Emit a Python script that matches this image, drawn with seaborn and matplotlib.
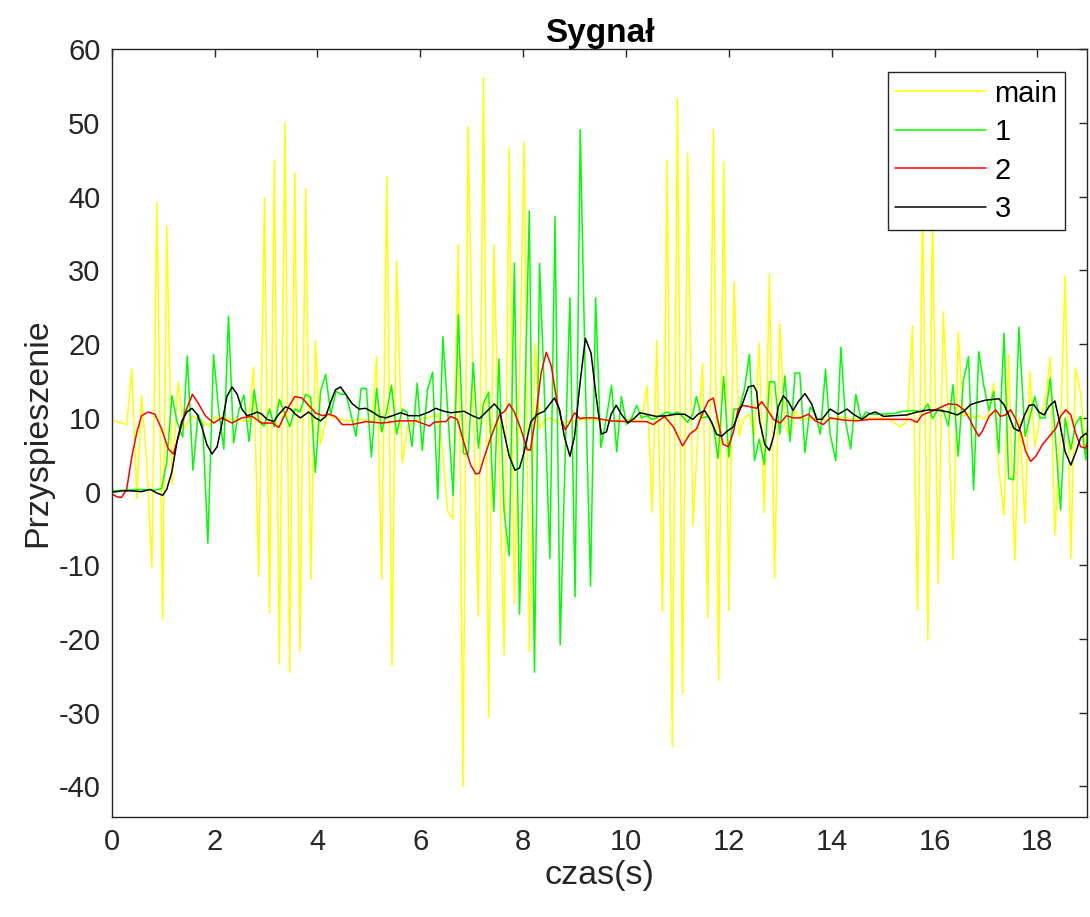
import numpy as np
import pandas as pd
import seaborn as sns
import matplotlib as mpl
import matplotlib.pyplot as plt

sns.set_style("white")
mpl.rcParams["font.family"] = ["Liberation Sans", "DejaVu Sans"]
mpl.rcParams["axes.unicode_minus"] = False
mpl.rcParams["axes.edgecolor"] = "#262626"
mpl.rcParams["xtick.color"] = "#262626"
mpl.rcParams["ytick.color"] = "#262626"

# values (time in s, acceleration)
t_main = [0.0, 0.29, 0.39, 0.49, 0.58, 0.68, 0.78, 0.88, 0.99, 1.07, 1.17, 1.29, 1.40, 1.56, 1.75, 1.88,
          2.01, 2.21, 2.47, 2.66, 2.76, 2.86, 2.97, 3.07, 3.16, 3.26, 3.37, 3.46, 3.56, 3.66, 3.77, 3.87,
          3.96, 4.06, 4.19, 4.35, 4.55, 4.87, 5.06, 5.15, 5.25, 5.35, 5.45, 5.54, 5.65, 5.75, 5.98, 6.24,
          6.34, 6.44, 6.53, 6.63, 6.74, 6.83, 6.93, 7.03, 7.13, 7.23, 7.33, 7.43, 7.53, 7.63, 7.73, 7.83,
          7.93, 8.02, 8.12, 8.23, 8.33, 8.43, 8.53, 8.71, 8.90, 9.16, 9.42, 9.80, 10.10, 10.30, 10.41, 10.51,
          10.60, 10.71, 10.80, 10.90, 11.00, 11.10, 11.20, 11.30, 11.40, 11.49, 11.59, 11.70, 11.80, 11.90,
          12.00, 12.10, 12.20, 12.30, 12.40, 12.50, 12.59, 12.69, 12.79, 12.89, 12.99, 13.09, 13.19, 13.29,
          13.39, 13.60, 13.90, 14.20, 14.50, 14.80, 15.10, 15.33, 15.47, 15.57, 15.67, 15.77, 15.87, 15.96,
          16.07, 16.17, 16.27, 16.36, 16.46, 16.56, 16.66, 16.76, 16.86, 16.96, 17.05, 17.15, 17.25, 17.35,
          17.44, 17.56, 17.65, 17.76, 17.85, 17.95, 18.05, 18.15, 18.25, 18.34, 18.45, 18.54, 18.65, 18.74,
          18.84, 18.94]
main = [9.7, 9.1, 16.6, -0.9, 13.1, 4.0, -10.2, 39.2, -17.4, 36.0, 1.0, 14.9, 8.5, 10.2, 9.6, 8.9,
        10.1, 9.9, 9.7, 9.5, 16.9, -11.5, 39.8, -16.5, 45.0, -23.4, 50.0, -24.5, 43.2, -21.7, 41.1, -11.9,
        20.5, 6.4, 10.5, 10.0, 9.6, 9.8, 9.5, 18.3, -11.9, 42.8, -23.7, 31.3, 3.9, 8.8, 9.8, 10.2,
        10.5, 5.0, -2.6, -3.7, 33.5, -40.0, 49.5, 12.0, -16.9, 56.2, -30.6, 33.5, 6.0, -22.2, 46.6, -15.2,
        15.0, 47.4, -21.7, 20.1, 8.5, 9.8, 10.0, 9.2, 9.5, 9.8, 9.7, 9.6, 9.8, 9.5, 14.4, -2.8,
        20.5, -16.3, 45.0, -34.6, 53.4, -27.4, 45.9, -4.7, 8.0, 17.4, -17.1, 49.1, -25.6, 44.7,
        -16.1, 28.5, 7.5, 10.0, 10.5, 7.5, 20.1, -2.9, 29.5, -11.7, 22.8, 9.0, 7.5, 11.0,
        9.8, 10.0, 9.7, 10.1, 9.8, 10.0, 9.9, 8.8, 9.6, 22.5, -16.1, 40.0, -20.2, 38.0,
        -12.5, 24.4, 10.0, -9.2, 21.7, 10.2, 10.7, 10.0, 10.3, 9.8, 10.5, 14.7, 3.0, -3.2,
        18.6, -9.3, 10.0, -4.3, 16.3, 6.1, 10.0, 12.0, 18.2, -5.9, 8.4, 29.3, -9.1, 16.8,
        13.4, 5.7]

t_s1 = [0.0, 0.52, 0.84, 0.97, 1.07, 1.17, 1.27, 1.38, 1.47, 1.58, 1.68, 1.77, 1.87, 1.98, 2.08, 2.18,
        2.27, 2.37, 2.47, 2.57, 2.67, 2.77, 2.86, 2.96, 3.07, 3.16, 3.26, 3.37, 3.46, 3.56, 3.66, 3.77,
        3.87, 3.96, 4.06, 4.16, 4.26, 4.36, 4.46, 4.56, 4.65, 4.75, 4.85, 4.95, 5.05, 5.15, 5.25, 5.35,
        5.44, 5.54, 5.65, 5.74, 5.84, 5.94, 6.04, 6.14, 6.24, 6.34, 6.44, 6.54, 6.64, 6.74, 6.84, 6.93,
        7.03, 7.13, 7.23, 7.33, 7.43, 7.53, 7.63, 7.73, 7.83, 7.93, 8.02, 8.12, 8.22, 8.32, 8.42, 8.52,
        8.62, 8.72, 8.81, 8.91, 9.01, 9.11, 9.21, 9.31, 9.41, 9.51, 9.62, 9.72, 9.82, 9.91, 10.01, 10.11,
        10.21, 10.30, 10.41, 10.51, 10.60, 10.71, 10.80, 10.90, 11.00, 11.10, 11.20, 11.30, 11.37, 11.47,
        11.60, 11.70, 11.79, 11.90, 12.00, 12.10, 12.20, 12.30, 12.40, 12.50, 12.59, 12.69, 12.79, 12.89,
        12.99, 13.09, 13.19, 13.29, 13.38, 13.48, 13.58, 13.68, 13.78, 13.88, 13.97, 14.08, 14.18, 14.27,
        14.37, 14.47, 14.57, 14.67, 14.77, 14.96, 15.20, 15.40, 15.60, 15.76, 15.87, 15.96, 16.07, 16.17,
        16.27, 16.36, 16.46, 16.56, 16.66, 16.76, 16.86, 16.96, 17.06, 17.15, 17.25, 17.35, 17.44, 17.54,
        17.64, 17.76, 17.85, 17.95, 18.05, 18.15, 18.25, 18.34, 18.45, 18.54, 18.65, 18.74, 18.84, 18.94,
        19.00]
s1 = [0.1, 0.3, 0.2, 0.4, 4.0, 13.0, 9.5, 7.4, 18.4, 2.9, 10.5, 9.0, -7.0, 18.6, 11.0, 5.8,
      23.8, 6.6, 11.0, 13.1, 6.8, 13.8, 9.5, 8.9, 11.2, 8.8, 12.5, 10.5, 8.8, 11.2, 10.8, 13.2,
      12.8, 2.6, 13.6, 15.9, 10.5, 13.6, 13.2, 13.2, 10.5, 7.5, 14.0, 14.0, 4.7, 14.0, 8.1, 11.0,
      14.4, 7.8, 11.2, 10.8, 6.1, 14.7, 5.6, 13.8, 16.2, -1.0, 21.0, 10.2, -0.5, 24.0, 5.2, 5.0,
      17.5, 5.9, 12.0, 13.5, -2.7, 18.0, -2.7, -8.7, 31.0, -16.6, 8.0, 38.1, -24.5, 31.0, 12.0, -9.1,
      37.3, -20.8, 3.0, 26.3, -14.3, 49.1, 15.0, -12.8, 26.3, 6.0, 10.0, 14.4, 5.4, 12.9, 9.1, 10.0,
      11.7, 10.0, 10.3, 9.8, 10.0, 10.5, 10.8, 10.5, 10.8, 10.2, 9.4, 10.5, 12.9, 10.0,
      10.2, 8.8, 4.5, 15.6, 4.7, 11.2, 11.2, 13.8, 18.6, 4.2, 7.1, 3.7, 14.9, 14.9,
      7.8, 15.7, 6.8, 16.1, 16.1, 5.3, 11.5, 10.5, 7.8, 16.6, 7.8, 4.2, 19.6, 9.5,
      5.8, 13.2, 9.8, 10.8, 10.5, 10.5, 10.6, 10.9, 11.0, 10.8, 11.9, 9.9, 11.2, 11.0,
      8.9, 14.5, 4.8, 15.0, 18.3, 0.2, 19.0, 14.3, 11.0, 13.6, 5.2, 21.5, 1.8, 1.6,
      22.3, 7.5, 10.0, 12.9, 10.0, 10.0, 15.4, 8.4, -2.5, 10.0, 5.7, 9.1, 10.2, 4.3,
      12.0]

t_s2 = [0.0, 0.10, 0.19, 0.29, 0.39, 0.49, 0.58, 0.71, 0.84, 0.97, 1.10, 1.20, 1.30, 1.43, 1.57, 1.69,
        1.82, 1.98, 2.14, 2.34, 2.53, 2.73, 2.92, 3.12, 3.25, 3.35, 3.44, 3.56, 3.70, 3.83, 3.96, 4.10,
        4.22, 4.35, 4.48, 4.68, 4.94, 5.26, 5.59, 5.91, 6.18, 6.27, 6.40, 6.50, 6.59, 6.72, 6.85, 6.98,
        7.08, 7.15, 7.25, 7.38, 7.54, 7.64, 7.73, 7.83, 7.96, 8.08, 8.14, 8.25, 8.35, 8.45, 8.55, 8.64,
        8.74, 8.82, 8.90, 9.00, 9.10, 9.19, 9.39, 9.70, 10.00, 10.40, 10.53, 10.75, 10.92, 11.10, 11.24,
        11.37, 11.50, 11.60, 11.70, 11.79, 11.89, 11.99, 12.09, 12.18, 12.28, 12.41, 12.54, 12.64, 12.74,
        12.87, 13.00, 13.12, 13.25, 13.38, 13.55, 13.68, 13.84, 13.97, 14.23, 14.49, 14.75, 15.01, 15.27,
        15.53, 15.66, 15.76, 15.95, 16.11, 16.27, 16.44, 16.57, 16.67, 16.77, 16.86, 16.93, 17.06, 17.19,
        17.28, 17.38, 17.48, 17.58, 17.68, 17.77, 17.87, 17.97, 18.10, 18.23, 18.36, 18.45, 18.55, 18.65,
        18.74, 18.84, 18.94, 19.00]
s2 = [-0.3, -0.7, -0.8, 0.3, 4.7, 8.1, 10.3, 10.8, 10.5, 8.5, 5.8, 5.1, 7.5, 10.8, 13.2, 11.9,
      10.3, 9.3, 10.0, 9.3, 10.0, 10.2, 9.3, 9.3, 8.7, 10.2, 11.5, 12.9, 12.7, 11.7, 10.7, 10.3,
      10.5, 10.2, 9.1, 9.1, 9.5, 9.3, 9.6, 9.6, 8.9, 9.4, 9.5, 9.5, 10.2, 9.8, 6.6, 3.6,
      2.4, 2.5, 4.8, 7.5, 10.4, 10.9, 11.9, 10.8, 8.4, 5.7, 5.6, 10.4, 16.1, 18.9, 17.0, 12.9,
      9.8, 8.4, 9.3, 10.7, 9.9, 10.0, 10.0, 9.6, 9.5, 9.5, 9.1, 10.2, 8.8, 6.2, 7.8,
      8.5, 10.8, 12.3, 12.7, 9.5, 6.4, 6.1, 8.1, 11.2, 11.7, 11.5, 11.3, 12.2, 11.2,
      9.8, 9.3, 10.3, 10.0, 10.0, 10.5, 9.6, 9.1, 10.0, 9.7, 9.6, 9.8, 9.8, 9.8,
      9.8, 9.4, 10.4, 10.9, 11.4, 11.9, 11.8, 11.1, 10.0, 8.6, 7.5, 8.2, 10.2, 11.1,
      10.2, 10.4, 11.1, 9.8, 8.0, 5.5, 4.1, 4.8, 6.4, 7.5, 8.6, 10.2, 11.1, 10.4,
      8.0, 6.1, 5.9, 7.2]

t_s3 = [0.0, 0.19, 0.39, 0.58, 0.75, 0.88, 0.99, 1.07, 1.17, 1.27, 1.36, 1.46, 1.56, 1.66, 1.75, 1.85,
        1.95, 2.05, 2.14, 2.24, 2.34, 2.44, 2.53, 2.63, 2.73, 2.83, 2.92, 3.02, 3.15, 3.25, 3.38, 3.48,
        3.57, 3.67, 3.83, 3.96, 4.06, 4.16, 4.26, 4.35, 4.45, 4.55, 4.68, 4.81, 4.94, 5.07, 5.20, 5.33,
        5.46, 5.62, 5.78, 5.98, 6.17, 6.30, 6.46, 6.59, 6.85, 7.01, 7.15, 7.28, 7.44, 7.54, 7.63, 7.73,
        7.84, 7.93, 8.02, 8.15, 8.28, 8.41, 8.51, 8.61, 8.71, 8.80, 8.91, 9.00, 9.10, 9.21, 9.32, 9.42,
        9.52, 9.62, 9.71, 9.81, 9.91, 10.04, 10.17, 10.27, 10.40, 10.59, 10.79, 10.98, 11.14, 11.30, 11.40,
        11.53, 11.66, 11.76, 11.86, 11.95, 12.09, 12.18, 12.28, 12.38, 12.48, 12.54, 12.60, 12.70, 12.79,
        12.87, 12.96, 13.06, 13.16, 13.25, 13.35, 13.48, 13.61, 13.71, 13.81, 13.97, 14.13, 14.30, 14.42,
        14.59, 14.72, 14.85, 15.01, 15.20, 15.46, 15.66, 15.89, 16.11, 16.27, 16.44, 16.57, 16.70, 16.83,
        16.99, 17.12, 17.25, 17.35, 17.44, 17.54, 17.64, 17.74, 17.84, 17.93, 18.03, 18.13, 18.23, 18.34,
        18.43, 18.54, 18.65, 18.74, 18.84, 18.94, 19.00]
s3 = [-0.1, 0.1, 0.1, 0.0, 0.3, -0.2, -0.5, 0.3, 2.7, 6.8, 9.5, 10.8, 11.3, 10.5, 8.8, 6.4,
      5.1, 6.1, 9.1, 12.9, 14.2, 13.2, 11.2, 10.3, 10.5, 10.8, 10.5, 9.8, 9.5, 10.5, 11.5, 11.2,
      10.5, 10.0, 10.8, 10.0, 9.6, 10.2, 12.2, 13.8, 14.2, 13.2, 11.9, 11.2, 11.3, 10.8, 10.2, 10.0,
      10.3, 10.7, 10.3, 10.3, 10.8, 11.3, 10.9, 10.7, 10.9, 10.3, 9.9, 10.8, 11.9, 11.1, 8.0, 4.8,
      2.9, 3.2, 5.4, 9.5, 10.5, 10.9, 11.8, 12.7, 11.1, 7.5, 4.8, 7.5, 14.3, 20.8, 18.8, 12.9,
      7.8, 8.1, 10.5, 11.7, 10.5, 9.3, 10.0, 10.7, 10.5, 10.2, 10.3, 10.5, 10.5, 9.8, 10.5,
      11.0, 9.5, 7.8, 7.5, 8.1, 8.8, 10.5, 12.2, 14.2, 14.4, 13.6, 9.5, 6.4, 5.6,
      7.5, 11.5, 13.0, 12.2, 11.0, 12.2, 13.3, 11.9, 9.8, 9.8, 11.2, 10.5, 11.2, 10.5,
      9.8, 10.5, 10.8, 10.2, 10.3, 10.4, 10.8, 11.1, 11.0, 10.8, 10.4, 10.9, 11.8, 12.1,
      12.4, 12.5, 12.6, 11.8, 10.4, 8.6, 8.2, 10.2, 11.7, 11.8, 10.8, 10.4, 11.6, 12.3,
      9.5, 5.4, 3.6, 5.2, 7.3, 7.9, 7.5]

series = [
    ("main", t_main, main, "#FFFF00"),
    ("1", t_s1, s1, "#00FF00"),
    ("2", t_s2, s2, "#FF0000"),
    ("3", t_s3, s3, "#000000"),
]

fig = plt.figure(figsize=(10.9, 9.17), dpi=100)
ax = fig.add_axes([0.1025, 0.1094, 0.8950, 0.8368])

for name, t, v, col in series:
    df = pd.DataFrame({"czas": t, "val": v})
    sns.lineplot(data=df, x="czas", y="val", color=col, linewidth=1.1,
                 sort=False, estimator=None, label=name, ax=ax)

ax.set_xlim(0, 18.97)
ax.set_ylim(-44.1, 60)
ax.set_xticks(np.arange(0, 19, 2))
ax.set_yticks(np.arange(-40, 61, 10))
ax.tick_params(direction="in", length=6, width=1, labelsize=21, top=True, right=True,
               labeltop=False, labelright=False, pad=8)
for sp in ax.spines.values():
    sp.set_linewidth(1.0)
    sp.set_color("#262626")

ax.set_xlabel("czas(s)", fontsize=24.5, color="#262626", labelpad=3)
ax.set_ylabel("Przyspieszenie", fontsize=24.5, color="#262626", labelpad=4)
ax.set_title("Sygnał", fontsize=24, fontweight="bold", color="black", pad=5)

leg = ax.legend(loc="upper right", bbox_to_anchor=(0.977, 0.970), borderaxespad=0,
                fontsize=21, handlelength=3.1, handletextpad=0.3, labelspacing=0.36,
                frameon=True, fancybox=False, framealpha=1, edgecolor="#262626",
                borderpad=0.25)
leg.get_frame().set_linewidth(1.0)
for txt in leg.get_texts():
    txt.set_color("black")

fig.savefig("out.png", dpi=100)
